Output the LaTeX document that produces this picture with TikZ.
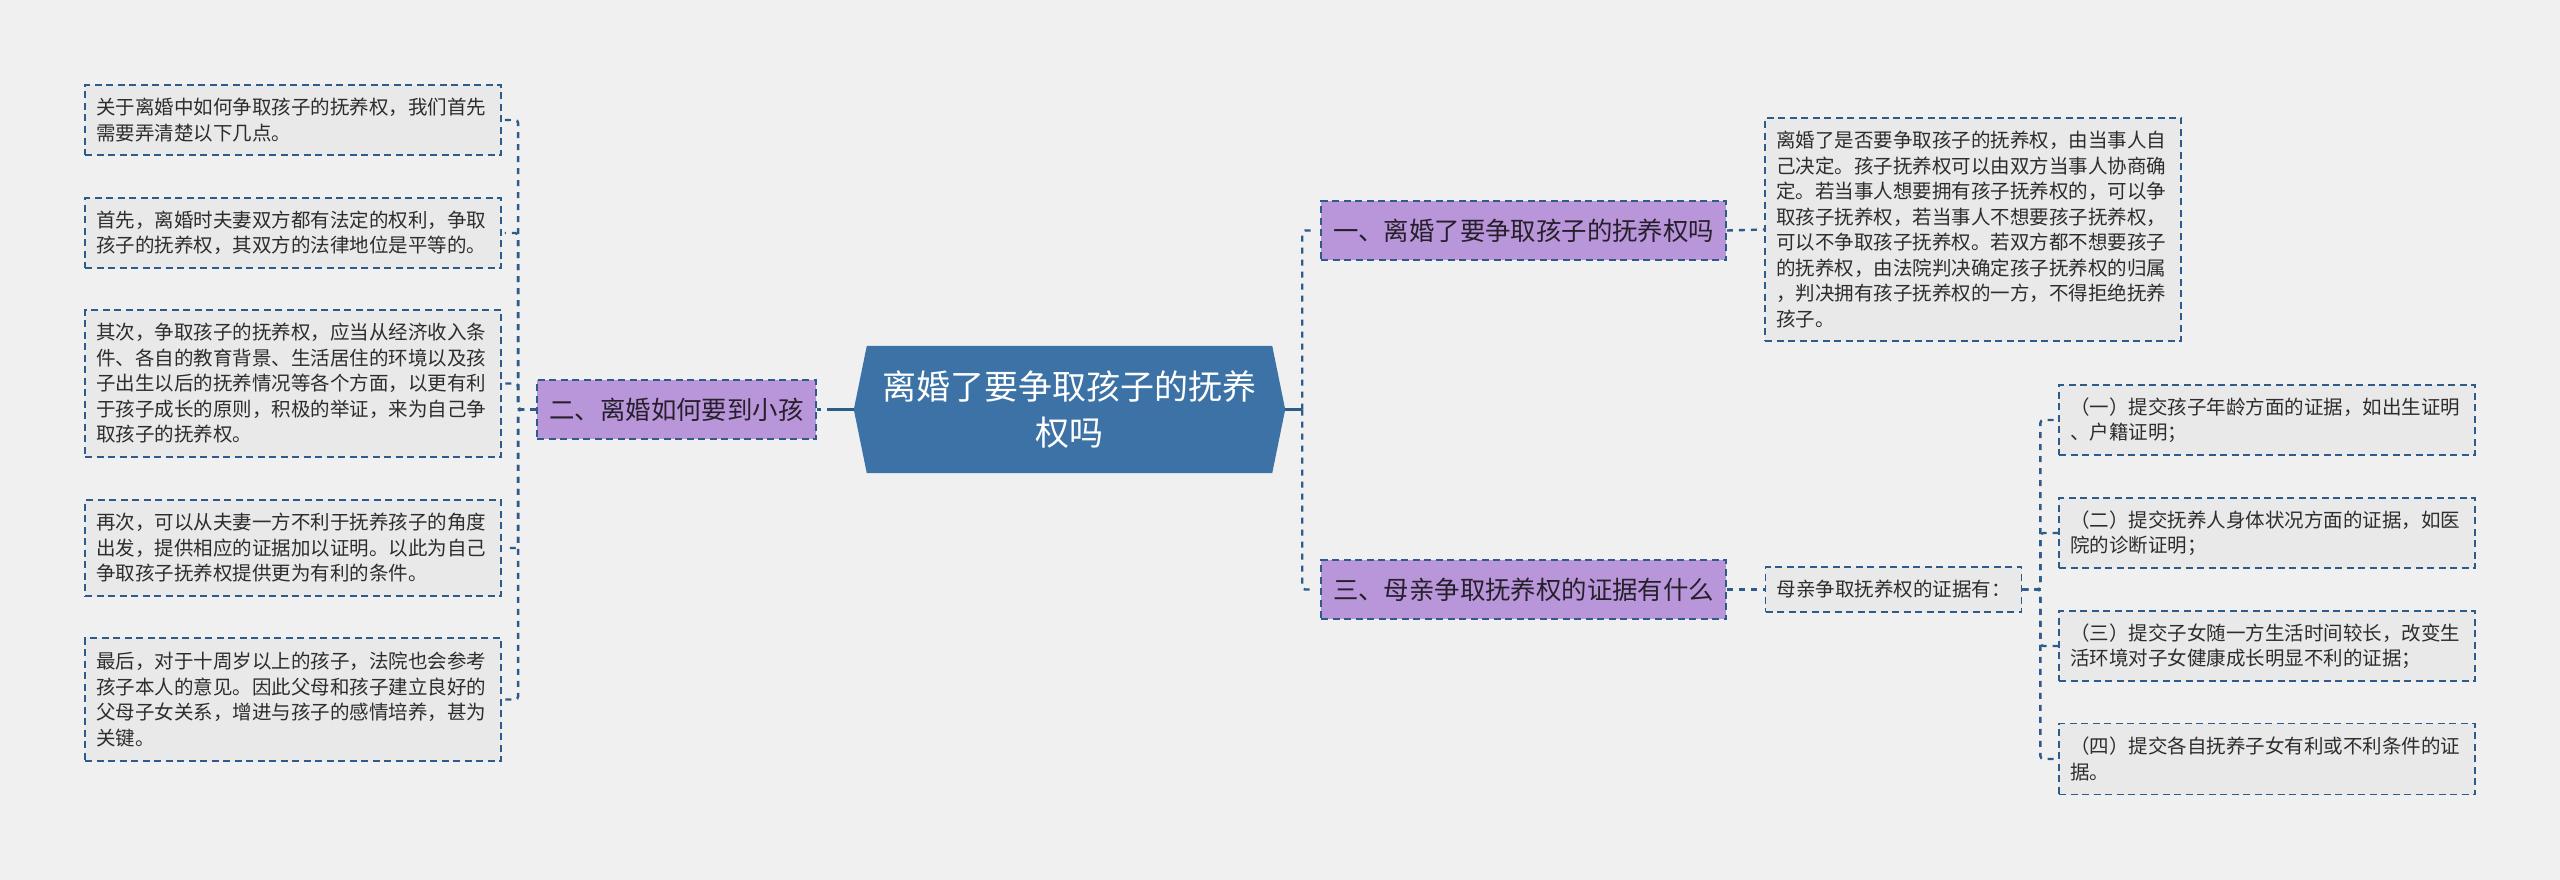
\documentclass[tikz,border=0pt]{standalone}
\usepackage{fontspec}
\setmainfont{Noto Sans CJK SC}
\usetikzlibrary{calc}
\definecolor{bgcol}{RGB}{240,240,240}
\definecolor{rootfill}{RGB}{60,114,165}
\definecolor{purp}{RGB}{185,150,217}
\definecolor{bordercol}{RGB}{46,92,138}
\definecolor{leaffill}{RGB}{233,233,233}
\definecolor{leaftext}{RGB}{45,45,45}
\definecolor{branchtext}{RGB}{38,32,44}
\pgfdeclarelayer{back}
\pgfsetlayers{back,main}
\begin{document}
\begin{tikzpicture}[x=1pt,y=-1pt,
  leaf/.style={draw=bordercol, line width=1.8pt, dash pattern=on 7pt off 4.5pt,
    fill=leaffill, text=leaftext, font=\fontsize{19.5}{25.5}\selectfont,
    align=left, text width=394pt, inner xsep=11pt, inner ysep=0pt, anchor=center},
  branch/.style={draw=bordercol, line width=1.8pt, dash pattern=on 7pt off 4.5pt,
    fill=purp, text=branchtext, font=\fontsize{25.4}{30}\selectfont,
    inner xsep=0pt, inner ysep=0pt, minimum height=59pt, anchor=center},
  conn/.style={draw=bordercol, line width=2.4pt, dash pattern=on 6pt off 6pt, rounded corners=3pt},
  solidconn/.style={draw=bordercol, line width=3pt}
]
\begin{pgfonlayer}{back}
\fill[bgcol] (0,0) rectangle (2560,880);
\end{pgfonlayer}
\useasboundingbox (0,0) rectangle (2560,880);

% root
\node[minimum width=431pt, minimum height=127pt, inner sep=0pt, text=white,
  font=\fontsize{34}{46}\selectfont, align=center] (root) at (1069.5,409.5)
  {离婚了要争取孩子的抚养\\权吗};
\begin{pgfonlayer}{back}
\fill[rootfill] (root.west) -- ($(root.north west)+(13,0)$) -- ($(root.north east)+(-13,0)$)
  -- (root.east) -- ($(root.south east)+(-13,0)$) -- ($(root.south west)+(13,0)$) -- cycle;
\end{pgfonlayer}

% branches
\node[branch, minimum width=279pt] (b2) at (676.5,409.5) {二、离婚如何要到小孩};
\node[branch, minimum width=405pt] (b1) at (1523.5,230.5) {一、离婚了要争取孩子的抚养权吗};
\node[branch, minimum width=405pt] (b3) at (1523.5,589.5) {三、母亲争取抚养权的证据有什么};

% left leaves
\node[leaf, minimum height=70pt] (l1) at (293,120)
 {关于离婚中如何争取孩子的抚养权，我们首先\\需要弄清楚以下几点。};
\node[leaf, minimum height=70pt] (l2) at (293,233)
 {首先，离婚时夫妻双方都有法定的权利，争取\\孩子的抚养权，其双方的法律地位是平等的。};
\node[leaf, minimum height=147pt] (l3) at (293,383.5)
 {其次，争取孩子的抚养权，应当从经济收入条\\件、各自的教育背景、生活居住的环境以及孩\\子出生以后的抚养情况等各个方面，以更有利\\于孩子成长的原则，积极的举证，来为自己争\\取孩子的抚养权。};
\node[leaf, minimum height=96pt] (l4) at (293,548)
 {再次，可以从夫妻一方不利于抚养孩子的角度\\出发，提供相应的证据加以证明。以此为自己\\争取孩子抚养权提供更为有利的条件。};
\node[leaf, minimum height=123pt] (l5) at (293,699.5)
 {最后，对于十周岁以上的孩子，法院也会参考\\孩子本人的意见。因此父母和孩子建立良好的\\父母子女关系，增进与孩子的感情培养，甚为\\关键。};

% right leaf of branch 1
\node[leaf, minimum height=223pt] (r1) at (1973,229.5)
 {离婚了是否要争取孩子的抚养权，由当事人自\\己决定。孩子抚养权可以由双方当事人协商确\\定。若当事人想要拥有孩子抚养权的，可以争\\取孩子抚养权，若当事人不想要孩子抚养权，\\可以不争取孩子抚养权。若双方都不想要孩子\\的抚养权，由法院判决确定孩子抚养权的归属\\，判决拥有孩子抚养权的一方，不得拒绝抚养\\孩子。};

% branch 3 subtree
\node[leaf, text width=234pt, minimum height=45pt] (m) at (1893.5,589.5)
 {母亲争取抚养权的证据有：};
\node[leaf, minimum height=70pt] (c1) at (2267,420)
 {（一）提交孩子年龄方面的证据，如出生证明\\、户籍证明；};
\node[leaf, minimum height=70pt] (c2) at (2267,533)
 {（二）提交抚养人身体状况方面的证据，如医\\院的诊断证明；};
\node[leaf, minimum height=70pt] (c3) at (2267,646)
 {（三）提交子女随一方生活时间较长，改变生\\活环境对子女健康成长明显不利的证据；};
\node[leaf, minimum height=71pt] (c4) at (2267,759)
 {（四）提交各自抚养子女有利或不利条件的证\\据。};

% connectors
\draw[solidconn, dash pattern=on 27pt off 6pt on 20pt] (root.west) -- (b2.east);
\foreach \n in {l1,l2,l3,l4,l5}
  \draw[conn, shorten >=3pt] (b2.west) -- ++(-18,0) |- (\n.east);

\draw[solidconn] (root.east) -- ++(17,0) coordinate (rb);
\draw[conn, shorten >=7pt] (rb) |- (b1.west);
\draw[conn, shorten >=7pt] (rb) |- (b3.west);

\draw[conn] (b1.east) -- (r1.west);
\draw[conn] (b3.east) -- (m.west);
\foreach \n in {c1,c2,c3,c4}
  \draw[conn] (m.east) -- ++(18,0) |- (\n.west);
\end{tikzpicture}
\end{document}
